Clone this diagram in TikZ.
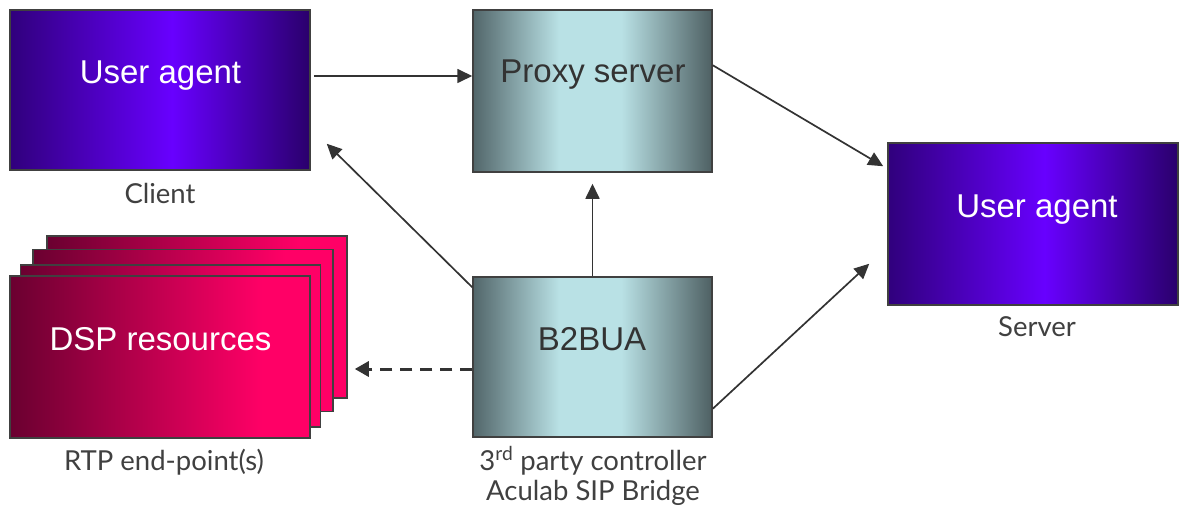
\documentclass[tikz,border=0pt]{standalone}
\usepackage{fontspec}
\setmainfont{Liberation Sans}
\newfontfamily\labelfont{Lato}
\usetikzlibrary{arrows.meta,calc}
\definecolor{uadark}{HTML}{30007C}
\definecolor{uadarkR}{HTML}{2A006C}
\definecolor{uabright}{HTML}{6800FF}
\definecolor{pxdark}{HTML}{52666A}
\definecolor{pxdarkR}{HTML}{4E6063}
\definecolor{pxlight}{HTML}{B9E1E5}
\definecolor{dspdark}{HTML}{6A0030}
\definecolor{dspbright}{HTML}{FF0066}
\definecolor{edge}{HTML}{404040}
\definecolor{ink}{HTML}{333333}
\definecolor{labelgray}{HTML}{404040}
\pgfdeclarehorizontalshading{uashade}{100bp}{color(0bp)=(uadark); color(25bp)=(uadark); color(52bp)=(uabright); color(75bp)=(uadarkR); color(100bp)=(uadarkR)}
\pgfdeclarehorizontalshading{pxshade}{100bp}{color(0bp)=(pxdark); color(25bp)=(pxdark); color(43bp)=(pxlight); color(56bp)=(pxlight); color(75bp)=(pxdarkR); color(100bp)=(pxdarkR)}
\pgfdeclarehorizontalshading{dspshade}{100bp}{color(0bp)=(dspdark); color(25bp)=(dspdark); color(67bp)=(dspbright); color(75bp)=(dspbright); color(100bp)=(dspbright)}
\tikzset{
  box/.style={draw=edge, line width=1.5pt, inner sep=0pt, rectangle, shade},
  uabox/.style={box, shading=uashade},
  pxbox/.style={box, shading=pxshade},
  dspbox/.style={box, shading=dspshade, minimum width=300pt, minimum height=162pt},
  boxtext/.style={font=\fontsize{33}{36}\selectfont, anchor=base, inner sep=0pt},
  lbl/.style={font=\labelfont\fontsize{27.5}{30}\selectfont, text=labelgray, anchor=base, inner sep=0pt},
  conn/.style={draw=ink, line width=1.7pt, -{Triangle[length=15pt,width=14pt]}},
  dashconn/.style={draw=ink, line width=3pt, dash pattern=on 12pt off 8pt, -{Triangle[length=14pt,width=15pt]}}
}
\begin{document}
\begin{tikzpicture}[x=1pt,y=-1pt]
\useasboundingbox (0,0) rectangle (1180,508);
% Client user agent
\node[uabox, minimum width=300pt, minimum height=160pt] (uaC) at (160,90) {};
\node[boxtext, text=white] (uaCt) at (160.5,84) {User agent};
\node[lbl] (client) at (160,203) {Client};
% Proxy server
\node[pxbox, minimum width=239pt, minimum height=162pt] (proxy) at (592.5,91) {};
\node[boxtext, text=ink] (proxyt) at (593,83) {Proxy server};
% Server user agent
\node[uabox, minimum width=290pt, minimum height=162pt] (uaS) at (1033,224) {};
\node[boxtext, text=white] (uaSt) at (1037,217) {User agent};
\node[lbl] (server) at (1037,336) {Server};
% B2BUA
\node[pxbox, minimum width=239pt, minimum height=160pt] (b2b) at (592.5,357) {};
\node[boxtext, text=ink] (b2bt) at (592,350) {B2BUA};
\node[lbl] (ctrl) at (593,470) {3\textsuperscript{rd} party controller};
\node[lbl] (bridge) at (593,500) {Aculab SIP Bridge};
% DSP stack
\node[dspbox] (d4) at (197,317) {};
\node[dspbox] (d3) at (183,330.5) {};
\node[dspbox] (d2) at (170.5,346) {};
\node[dspbox] (d1) at (160,357) {};
\node[boxtext, text=white] (dspt) at (160.5,350) {DSP resources};
\node[lbl] (rtp) at (164,470) {RTP end-point(s)};
% connectors
\draw[conn] ([xshift=3pt,yshift=14pt]uaC.east) -- ([yshift=15pt]proxy.west);
\draw[conn] ([yshift=-11pt]b2b.north west) -- ([xshift=16pt,yshift=27pt]uaC.south east);
\draw[conn] (b2b.north) -- ([yshift=-11pt]proxy.south);
\draw[conn] ([yshift=-56pt]proxy.north east) -- ([xshift=-4pt,yshift=-24pt]uaS.north west);
\draw[conn] ([yshift=29pt]b2b.south east) -- ([xshift=-18pt,yshift=42pt]uaS.south west);
\coordinate (dashstart) at ([yshift=-12pt]b2b.west);
\coordinate (dashend) at ([xshift=7pt]d4.east |- dashstart);
\draw[dashconn] (dashstart) -- (dashend);
\end{tikzpicture}
\end{document}
